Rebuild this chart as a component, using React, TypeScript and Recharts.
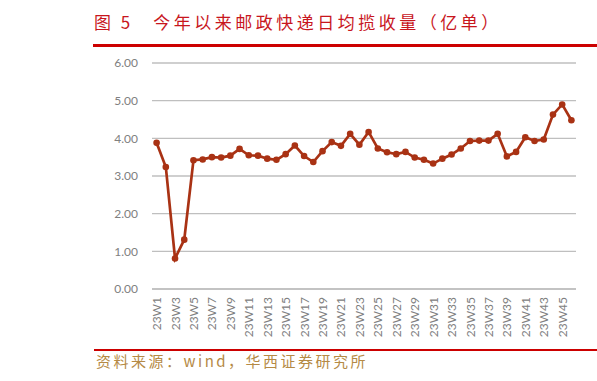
import { LineChart, Line, XAxis, YAxis, CartesianGrid } from 'recharts';

const weeks = [
  '23W1', '23W2', '23W3', '23W4', '23W5', '23W6', '23W7', '23W8', '23W9', '23W10',
  '23W11', '23W12', '23W13', '23W14', '23W15', '23W16', '23W17', '23W18', '23W19', '23W20',
  '23W21', '23W22', '23W23', '23W24', '23W25', '23W26', '23W27', '23W28', '23W29', '23W30',
  '23W31', '23W32', '23W33', '23W34', '23W35', '23W36', '23W37', '23W38', '23W39', '23W40',
  '23W41', '23W42', '23W43', '23W44', '23W45', '23W46',
];

// 日均揽收量（亿单）
const volume = [
  3.88, 3.24, 0.81, 1.31, 3.42, 3.44, 3.5, 3.49, 3.54, 3.72,
  3.55, 3.54, 3.46, 3.43, 3.58, 3.81, 3.53, 3.37, 3.66, 3.9,
  3.8, 4.12, 3.83, 4.17, 3.73, 3.63, 3.58, 3.64, 3.49, 3.43,
  3.33, 3.46, 3.57, 3.73, 3.93, 3.94, 3.94, 4.12, 3.52, 3.64,
  4.03, 3.93, 3.97, 4.63, 4.9, 4.48,
];

const yTicks = [0, 1, 2, 3, 4, 5, 6];

const data = weeks.map((w, i) => ({ week: w, value: volume[i] }));

const axisFont = 'Lato, "Open Sans", sans-serif';

function WeekTick({ x, y, payload }: any) {
  return (
    <text
      x={x}
      y={y}
      transform={`rotate(-90, ${x}, ${y})`}
      textAnchor="end"
      dominantBaseline="central"
      fontSize={12}
      fontFamily={axisFont}
      fill="#808080"
    >
      {payload.value}
    </text>
  );
}

export default function App() {
  return (
    <div
      style={{
        position: 'absolute',
        left: 0,
        top: 0,
        width: 597,
        height: 381,
        background: '#fff',
        fontFamily: '"Noto Sans CJK SC", sans-serif',
      }}
    >
      <div
        style={{
          position: 'absolute',
          left: 94,
          top: 9,
          fontSize: 17,
          lineHeight: '26px',
          color: '#c8161d',
          whiteSpace: 'nowrap',
        }}
      >
        <span style={{ letterSpacing: 3 }}>图 5</span>
        <span style={{ marginLeft: 20, letterSpacing: 3.5 }}>今年以来邮政快递日均揽收量（亿单）</span>
      </div>
      <div style={{ position: 'absolute', left: 93, top: 44, width: 504, height: 3, background: '#cc0000' }} />

      <LineChart
        width={597}
        height={381}
        data={data}
        margin={{ top: 63, right: 21, bottom: 42, left: 102 }}
      >
        <CartesianGrid vertical={false} stroke="#bfbfbf" strokeWidth={1.3} />
        <XAxis
          dataKey="week"
          interval={1}
          tick={<WeekTick />}
          tickLine={false}
          padding={{ left: 4.6, right: 4.6 }}
          axisLine={{ stroke: '#bfbfbf', strokeWidth: 1.3 }}
          height={50}
        />
        <YAxis
          domain={[0, 6]}
          ticks={yTicks}
          tickFormatter={(v: number) => v.toFixed(2)}
          axisLine={false}
          tickLine={false}
          tickMargin={8}
          width={50}
          tick={{ fontSize: 12, fontFamily: axisFont, fill: '#808080' }}
        />
        <Line
          type="linear"
          dataKey="value"
          stroke="#a93214"
          strokeWidth={2.7}
          dot={{ r: 3.3, fill: '#a93214', stroke: '#a93214', strokeWidth: 0 }}
          isAnimationActive={false}
        />
      </LineChart>

      <div style={{ position: 'absolute', left: 94, top: 349, width: 503, height: 2, background: '#cc0000' }} />
      <div
        style={{
          position: 'absolute',
          left: 96,
          top: 350,
          fontSize: 15,
          lineHeight: '22px',
          letterSpacing: 2.5,
          color: '#b58a45',
          whiteSpace: 'nowrap',
        }}
      >
        资料来源：wind，华西证券研究所
      </div>
    </div>
  );
}
